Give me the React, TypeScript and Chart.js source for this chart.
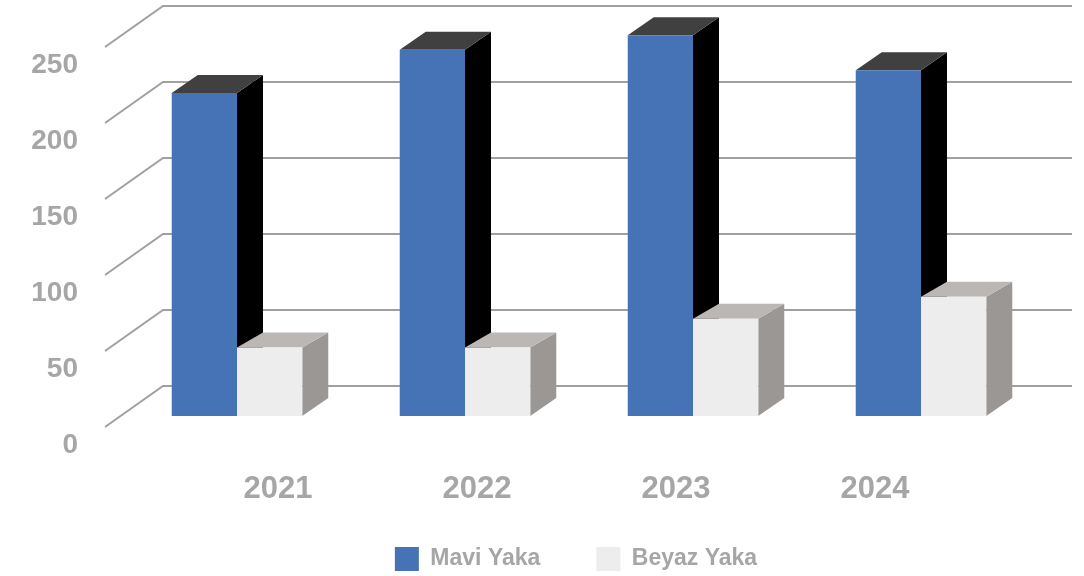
import React, { useEffect, useRef } from "react";
import { Chart, registerables } from "chart.js";

Chart.register(...registerables);

const categories = ["2021", "2022", "2023", "2024"];
const maviYaka = [212.5, 241, 250.5, 227.5];
const beyazYaka = [45, 45, 64, 78.5];
const seriesNames = ["Mavi Yaka", "Beyaz Yaka"];
const yTicks = [0, 50, 100, 150, 200, 250];

const GREY = "#a6a6a6";
const GRID = "#a0a0a0";
const FONT = "'Liberation Sans', Arial, sans-serif";

const depthStyles = [
  { top: "#404040", side: "#000000", dx: 26, dyTop: 18, dyBase: 18 },
  { top: "#bbb7b5", side: "#9b9795", dx: 26, dyTop: 15, dyBase: 18 },
];

function poly(ctx: CanvasRenderingContext2D, pts: number[][], fill: string) {
  ctx.beginPath();
  pts.forEach((p, i) => (i ? ctx.lineTo(p[0], p[1]) : ctx.moveTo(p[0], p[1])));
  ctx.closePath();
  ctx.fillStyle = fill;
  ctx.fill();
}

const wall3d = {
  id: "wall3d",
  beforeLayout(chart: any) {
    const l = chart.legend;
    if (l && !l.__fitPatched) {
      const fit = l.fit.bind(l);
      l.fit = () => {
        fit();
        l.height = 40;
      };
      l.__fitPatched = true;
    }
  },
  afterLayout(chart: any) {
    const l = chart.legend;
    if (l) {
      l.top = 491;
      l.bottom = 576;
      l.left = 34;
      l.right = 1118;
    }
  },
  beforeDatasetsDraw(chart: any) {
    const { ctx, scales } = chart;
    const y = scales.y;
    ctx.save();
    ctx.strokeStyle = GRID;
    ctx.lineWidth = 2;
    ctx.lineJoin = "miter";
    yTicks.forEach((v) => {
      const p = y.getPixelForValue(v);
      ctx.beginPath();
      ctx.moveTo(105, p + 11);
      ctx.lineTo(163, p - 30);
      ctx.lineTo(1072, p - 30);
      ctx.stroke();
    });
    [0, 1].forEach((di) => {
      const s = depthStyles[di];
      chart.getDatasetMeta(di).data.forEach((bar: any) => {
        const r = bar.x + bar.width / 2;
        const l = bar.x - bar.width / 2;
        const t = bar.y;
        const b = bar.base;
        poly(ctx, [[r, t], [r + s.dx, t - s.dyTop], [r + s.dx, b - s.dyBase], [r, b]], s.side);
        poly(ctx, [[l, t], [l + s.dx, t - s.dyTop], [r + s.dx, t - s.dyTop], [r, t]], s.top);
      });
    });
    ctx.restore();
  },
};

function noScalePadding(s: any) {
  s.paddingTop = 0;
  s.paddingBottom = 0;
  s.paddingLeft = 0;
  s.paddingRight = 0;
}

export default function App() {
  const ref = useRef<HTMLCanvasElement>(null);
  useEffect(() => {
    if (!ref.current) return;
    const chart = new Chart(ref.current, {
      type: "bar",
      data: {
        labels: categories,
        datasets: [
          { label: seriesNames[0], data: maviYaka, backgroundColor: "#4672b6", borderWidth: 0 },
          { label: seriesNames[1], data: beyazYaka, backgroundColor: "#ededed", borderWidth: 0 },
        ],
      },
      options: {
        responsive: false,
        animation: false,
        layout: { padding: { top: 6, right: 49, left: 0, bottom: 0 } },
        datasets: { bar: { categoryPercentage: 0.5725, barPercentage: 1 } },
        plugins: {
          tooltip: { enabled: false },
          legend: {
            position: "bottom",
            labels: {
              boxWidth: 24,
              boxHeight: 24,
              padding: 56,
              color: GREY,
              font: { family: FONT, size: 23, weight: "bold" },
            },
          },
        },
        scales: {
          x: {
            type: "category",
            grid: { display: false, drawTicks: false },
            border: { display: false },
            ticks: { display: false },
            afterFit(s: any) {
              noScalePadding(s);
              s.height = 0;
            },
          },
          x2: {
            type: "linear",
            position: "bottom",
            offset: false,
            min: 2020.221,
            max: 2024.804,
            grid: { display: false, drawTicks: false },
            border: { display: false },
            ticks: {
              stepSize: 1,
              includeBounds: false,
              maxRotation: 0,
              autoSkip: false,
              padding: 55,
              color: GREY,
              font: { family: FONT, size: 31, weight: "bold" },
              callback: (v: any) => String(v),
            },
            afterFit(s: any) {
              noScalePadding(s);
              s.height = 120;
            },
          },
          y: {
            type: "linear",
            min: 0,
            max: 269.7,
            grid: { display: false, drawTicks: false },
            border: { display: false },
            ticks: {
              stepSize: 50,
              includeBounds: false,
              padding: 45,
              labelOffset: 29,
              color: GREY,
              font: { family: FONT, size: 28, weight: "bold" },
            },
            afterFit(s: any) {
              noScalePadding(s);
              s.width = 123;
            },
          },
        },
      } as any,
      plugins: [wall3d],
    });
    return () => chart.destroy();
  }, []);
  return (
    <canvas
      ref={ref}
      width={1084}
      height={576}
      style={{ position: "absolute", left: 0, top: 0, display: "block", background: "#fff" }}
    />
  );
}
